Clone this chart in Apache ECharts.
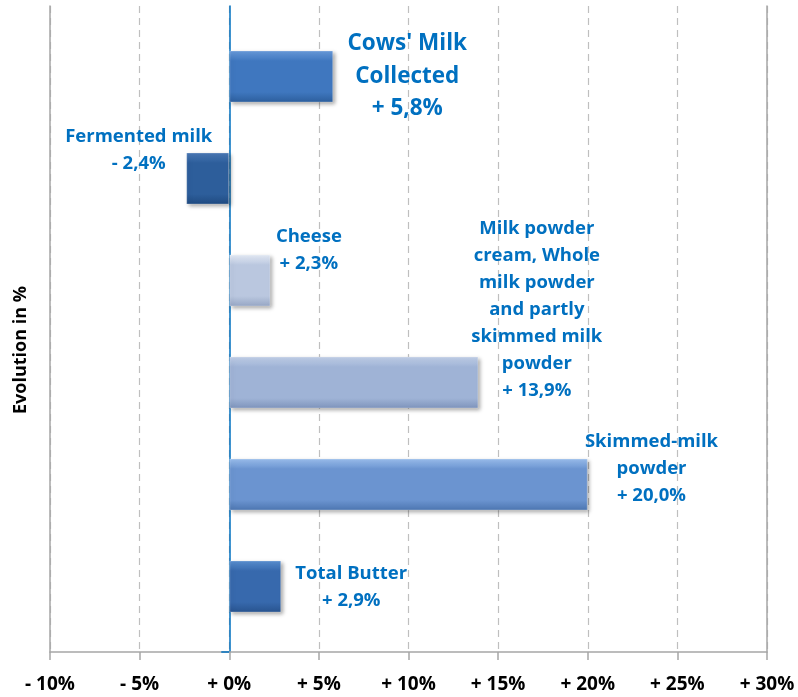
<!DOCTYPE html>
<html>
<head>
<meta charset="utf-8">
<script src="https://cdn.jsdelivr.net/npm/echarts@6/dist/echarts.min.js"></script>
<style>
  html, body { margin: 0; padding: 0; background: #fff; }
  #chart { width: 798px; height: 697px; }
</style>
</head>
<body>
<div id="chart"></div>
<script>
// categories, top to bottom
const categories = ["Cows' Milk Collected", 'Fermented milk', 'Cheese',
  'Milk powder cream, Whole milk powder and partly skimmed milk powder',
  'Skimmed-milk powder', 'Total Butter'];
// evolution in %
const evolution = [5.8, -2.4, 2.3, 13.9, 20.0, 2.9];
// label text, broken into lines as in the picture
const labelNames = [
  ["Cows' Milk", 'Collected'],
  ['Fermented milk'],
  ['Cheese'],
  ['Milk powder', 'cream, Whole', 'milk powder', 'and partly', 'skimmed milk', 'powder'],
  ['Skimmed-milk', 'powder'],
  ['Total Butter']
];
const xMin = -10, xMax = 30, xStep = 5;

// layout of the labels (offset from bar centre, px)
const labelOffsets = [[126, 0], [-69, -28], [59, -30], [183, -73], [243, -16], [96, 1]];
const barColors = [
  ['#6a9bdb', '#3f77bf', '#2c5e9c'],
  ['#4b79b6', '#2d5e9b', '#1f4a80'],
  ['#e6ecf6', '#bac7df', '#96a6c4'],
  ['#c2d0e8', '#9fb3d6', '#7d93bb'],
  ['#9cc0ee', '#6b94d0', '#4c75b0'],
  ['#5a90d2', '#3769ad', '#28538e']
];

const pct = v => (v < 0 ? '- ' : '+ ') + Math.abs(v).toFixed(1).replace('.', ',') + '%';
const tickFmt = v => (v < 0 ? '- ' + (-v) : '+ ' + v) + '%';

const font = '"Open Sans", sans-serif';
const axisGray = '#a6a6a6';

const chart = echarts.init(document.getElementById('chart'));

const barData = evolution.map((v, i) => ({
  value: v,
  itemStyle: {
    color: new echarts.graphic.LinearGradient(0, 0, 0, 1, [
      { offset: 0, color: barColors[i][0] },
      { offset: 0.2, color: barColors[i][1] },
      { offset: 0.8, color: barColors[i][1] },
      { offset: 1, color: barColors[i][2] }
    ])
  },
  label: {
    offset: labelOffsets[i],
    fontSize: i === 0 ? 22.5 : 18.5,
    lineHeight: i === 0 ? 32.5 : 27,
    formatter: labelNames[i].concat(pct(v)).join('\n')
  }
}));

chart.setOption({
  animation: false,
  grid: [
    { left: 50, right: 31, top: 6, bottom: 45 },
    { left: 50, right: 31, top: 25.5, bottom: 59.5 },
    { left: 50, right: 31, top: 6, bottom: 45 }
  ],
  xAxis: [
    {
      gridIndex: 0, type: 'value', min: xMin, max: xMax, interval: xStep,
      axisLine: { show: true, onZero: false, lineStyle: { color: axisGray, width: 1.5 } },
      axisTick: { show: true, length: 8, lineStyle: { color: axisGray, width: 1.5 } },
      axisLabel: {
        formatter: tickFmt, color: '#000', fontFamily: font, fontWeight: 'bold',
        fontSize: 19, margin: 23
      },
      splitLine: { show: true, lineStyle: { color: '#bfbfbf', type: [7, 5], width: 1.2 } }
    },
    { gridIndex: 1, type: 'value', min: xMin, max: xMax, show: false },
    { gridIndex: 2, type: 'value', min: xMin, max: xMax, show: false }
  ],
  yAxis: [
    {
      gridIndex: 0, type: 'value', min: 0, max: 1, position: 'left',
      axisLine: { show: true, onZero: false, lineStyle: { color: axisGray, width: 1.5 } },
      axisTick: { show: false }, axisLabel: { show: false }, splitLine: { show: false }
    },
    {
      gridIndex: 0, type: 'value', min: 0, max: 1, position: 'right',
      axisLine: { show: true, onZero: false, lineStyle: { color: axisGray, width: 1.5 } },
      axisTick: { show: false }, axisLabel: { show: false }, splitLine: { show: false }
    },
    {
      gridIndex: 1, type: 'category', data: categories, inverse: true, show: false
    },
    {
      gridIndex: 2, type: 'value', min: 0, max: 1, interval: 1, position: 'left',
      axisLine: { show: true, onZero: true, lineStyle: { color: '#0070c0', width: 1.5 } },
      axisTick: { show: true, length: 8, customValues: [0], lineStyle: { color: '#0070c0', width: 1.5 } },
      axisLabel: { show: false }, splitLine: { show: false }
    }
  ],
  graphic: [{
    type: 'text', x: 21, y: 350, rotation: Math.PI / 2,
    style: {
      text: 'Evolution in %', fill: '#000', font: 'bold 18px ' + font,
      align: 'center', verticalAlign: 'middle'
    }
  }],
  series: [{
    type: 'bar',
    xAxisIndex: 1,
    yAxisIndex: 2,
    barWidth: '51%',
    data: barData,
    itemStyle: {
      borderColor: 'rgba(255,255,255,0.25)', borderWidth: 1,
      shadowBlur: 4, shadowOffsetX: 2, shadowOffsetY: 2, shadowColor: 'rgba(0,0,0,0.35)'
    },
    label: {
      show: true, position: 'inside', align: 'center', verticalAlign: 'middle',
      color: '#0070c0', fontFamily: font, fontWeight: 'bold'
    },
    z: 3
  }]
});
</script>
</body>
</html>
